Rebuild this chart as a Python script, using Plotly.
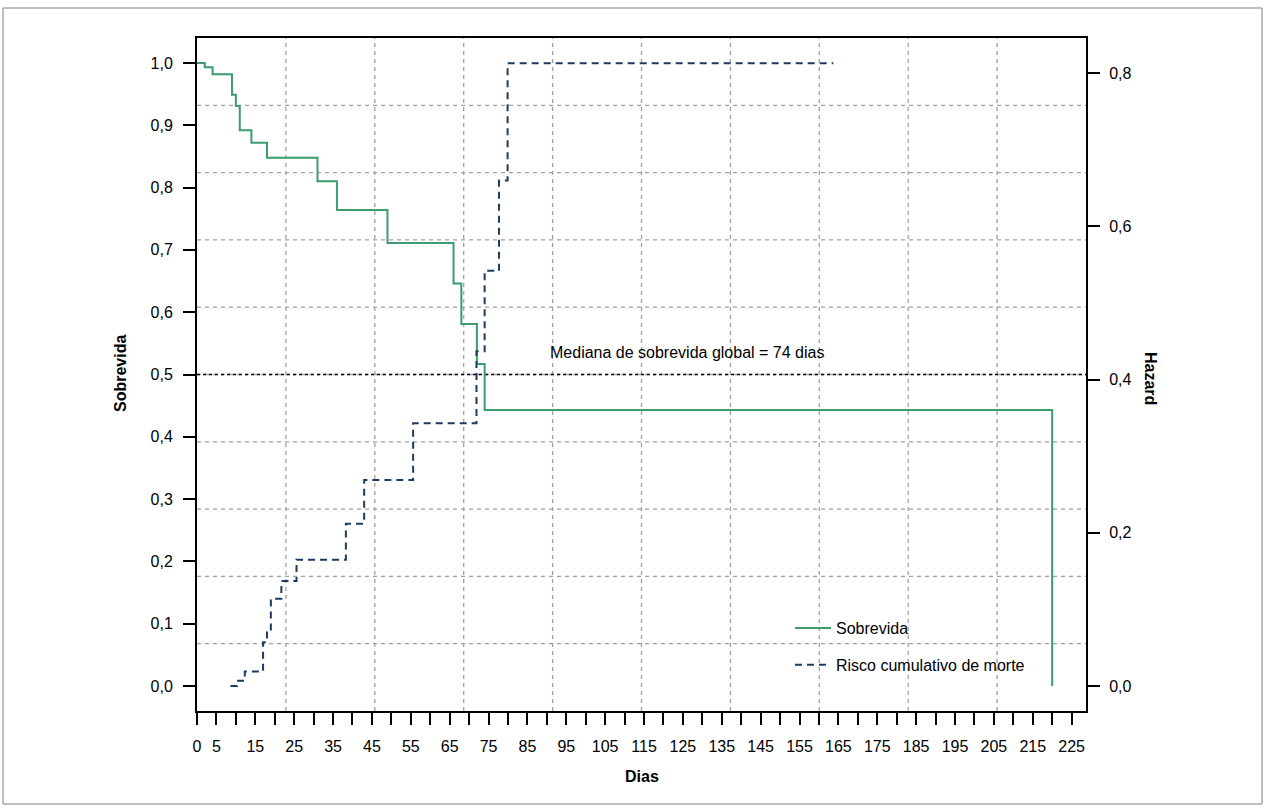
import plotly.graph_objects as go

# ---------------- data ----------------
surv_days = [0, 2, 4, 9, 10, 11, 14, 18, 31, 36, 49, 66, 68, 72, 74, 220]
surv_vals = [1.000, 0.993, 0.982, 0.949, 0.931, 0.892, 0.872, 0.848, 0.810,
             0.764, 0.711, 0.646, 0.581, 0.517, 0.443, 0.000]

haz_days = [8.6, 10.3, 12.3, 17.0, 18.0, 19.0, 21.7, 25.6, 38.3, 43.0, 55.6,
            71.9, 74.0, 77.7, 79.9, 163.7]
haz_vals = [0.000, 0.007, 0.019, 0.057, 0.072, 0.114, 0.137, 0.165, 0.212,
            0.269, 0.343, 0.437, 0.542, 0.660, 0.813, 0.813]

median_surv = 0.5
median_label = "Mediana de sobrevida global = 74 dias"
median_label_x = 126
median_label_y = 0.535

x_tickvals = list(range(0, 230, 5))
x_ticktext = [str(v) if (v == 0 or v % 10 == 5) else "" for v in x_tickvals]
y_tickvals = [i / 10 for i in range(11)]
y2_tickvals = [0.0, 0.2, 0.4, 0.6, 0.8]

# ---------------- styling ----------------
FONT = "Liberation Sans, Arial, sans-serif"
FS = 16
GREEN = "#3a9d6d"
NAVY = "#1f3a60"
GRID = "#a0a0a0"

W, H = 1265, 808
ML, MR, MT, MB = 197, 179, 38, 97
PW, PH = W - ML - MR, H - MT - MB

fig = go.Figure()
fig.add_trace(go.Scatter(
    x=surv_days, y=surv_vals, mode="lines", line_shape="hv",
    line=dict(color=GREEN, width=2), name="Sobrevida",
    legendgroup="a", yaxis="y"))
fig.add_trace(go.Scatter(
    x=haz_days, y=haz_vals, mode="lines", line_shape="hv",
    line=dict(color=NAVY, width=2, dash="7px,5px"),
    name="Risco cumulativo de morte", legendgroup="b", yaxis="y2"))

shapes = []
for i in range(1, 10):
    f = i / 10
    shapes.append(dict(type="line", xref="x domain", yref="y domain",
                       x0=f, x1=f, y0=0, y1=1, layer="below",
                       line=dict(color=GRID, width=1.3, dash="4px,4px")))
    shapes.append(dict(type="line", xref="x domain", yref="y domain",
                       x0=0, x1=1, y0=f, y1=f, layer="below",
                       line=dict(color=GRID, width=1.3, dash="4px,4px")))
shapes.append(dict(type="line", xref="x domain", yref="y",
                   x0=0, x1=1, y0=median_surv, y1=median_surv, layer="below",
                   line=dict(color="black", width=1.6, dash="3px,3px")))
# outer frame of the picture
shapes.append(dict(type="rect", xref="paper", yref="paper",
                   x0=(3 - ML) / PW, x1=(1262 - ML) / PW,
                   y0=(H - MB - 804) / PH, y1=(H - MB - 8) / PH,
                   line=dict(color="#808080", width=1)))

title_font = dict(family=FONT, size=FS, color="black")
annotations = [
    dict(text=median_label, x=median_label_x, y=median_label_y, xref="x", yref="y",
         xanchor="center", yanchor="middle", showarrow=False, font=title_font),
    dict(text="<b>Sobrevida</b>", x=(120 - ML) / PW, y=(H - MB - 374) / PH,
         xref="paper", yref="paper", xanchor="center", yanchor="middle",
         textangle=-90, showarrow=False, font=title_font),
    dict(text="<b>Hazard</b>", x=(1151 - ML) / PW, y=(H - MB - 378) / PH,
         xref="paper", yref="paper", xanchor="center", yanchor="middle",
         textangle=90, showarrow=False, font=title_font),
    dict(text="<b>Dias</b>", x=0.5, y=(H - MB - 776) / PH, xref="paper", yref="paper",
         xanchor="center", yanchor="middle", showarrow=False, font=title_font),
]

axis_common = dict(showline=True, linecolor="black", linewidth=2, ticks="outside",
                   ticklen=12, tickwidth=2, tickcolor="black", showgrid=False,
                   zeroline=False, tickfont=dict(family=FONT, size=FS, color="black"))

fig.update_layout(
    width=W, height=H, autosize=False,
    margin=dict(l=ML, r=MR, t=MT, b=MB, pad=0),
    paper_bgcolor="white", plot_bgcolor="white",
    separators=",.",
    font=dict(family=FONT, size=FS, color="black"),
    xaxis=dict(range=[0, 228.7], tickvals=x_tickvals, ticktext=x_ticktext,
               mirror=True, ticklabelstandoff=8, **axis_common),
    yaxis=dict(range=[-0.040, 1.040], tickvals=y_tickvals, tickformat=".1f",
               mirror=True, ticklabelstandoff=7, **axis_common),
    yaxis2=dict(range=[-0.0326, 0.846], tickvals=y2_tickvals, tickformat=".1f",
                overlaying="y", side="right", ticklabelstandoff=6, **axis_common),
    legend=dict(x=(790 - ML) / PW, y=(H - MB - 611) / PH, xanchor="left", yanchor="top",
                bgcolor="rgba(0,0,0,0)", borderwidth=0, tracegroupgap=13,
                itemwidth=36, font=dict(family=FONT, size=FS, color="black")),
    showlegend=True,
    shapes=shapes,
    annotations=annotations,
)

fig.write_html("out.html", config={"displayModeBar": False},
               post_script="document.body.style.margin='0';")
